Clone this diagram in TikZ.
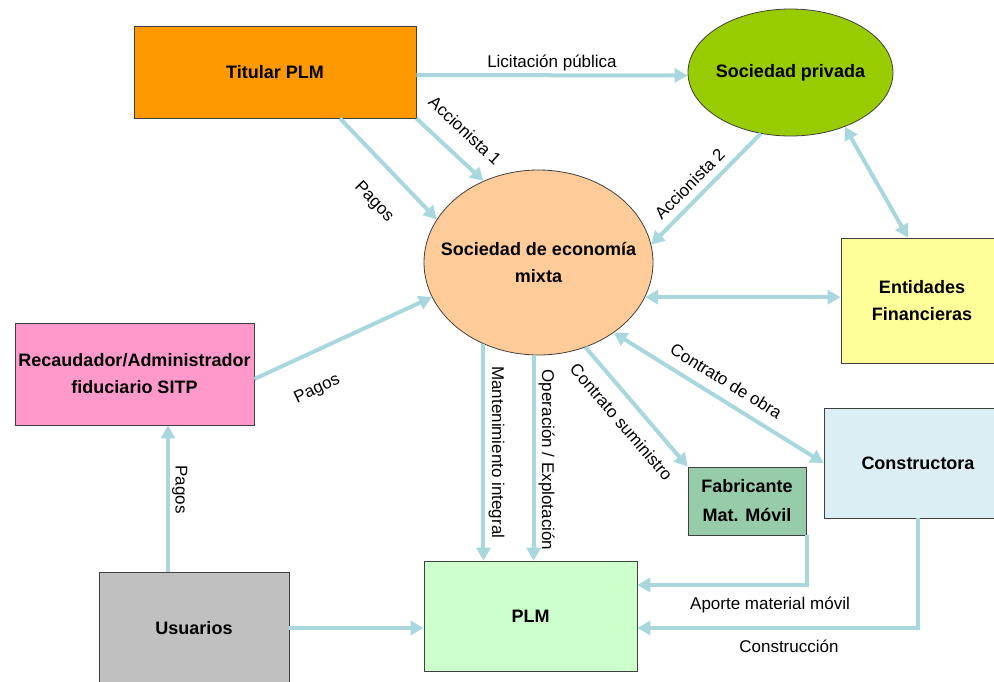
\documentclass[tikz,border=0pt]{standalone}
\usepackage{fontspec}
\setmainfont{Liberation Sans}
\usetikzlibrary{shapes.geometric}
\usetikzlibrary{arrows.meta}

\definecolor{flowblue}{RGB}{168,216,222}
\definecolor{titularfill}{RGB}{255,153,0}
\definecolor{privadafill}{RGB}{153,204,0}
\definecolor{mixtafill}{RGB}{255,204,153}
\definecolor{entidadesfill}{RGB}{255,255,153}
\definecolor{recaudadorfill}{RGB}{255,153,204}
\definecolor{constructorafill}{RGB}{218,238,243}
\definecolor{fabricantefill}{RGB}{150,204,170}
\definecolor{usuariosfill}{RGB}{192,192,192}
\definecolor{plmfill}{RGB}{204,255,204}

\begin{document}
\begin{tikzpicture}[x=1pt, y=-1pt,
    flow/.style={line width=4pt, draw=flowblue, -{Triangle[width=14pt,length=13pt]}},
    twoway/.style={flow, {Triangle[width=14pt,length=13pt]}-{Triangle[width=14pt,length=13pt]}},
    box/.style={rectangle, draw=black!75, line width=0.8pt, inner sep=0pt, align=center,
        font=\fontsize{18}{27}\selectfont\bfseries},
    oval/.style={box, ellipse, inner xsep=-25pt, inner ysep=-5pt},
    lbl/.style={font=\fontsize{17}{20}\selectfont, inner sep=2pt},
]
\useasboundingbox (0,0) rectangle (994,681);
\clip (0,0) rectangle (994,681);

% actors
\node[box, fill=titularfill, minimum width=282pt, minimum height=92pt] (titular) at (275,72) {Titular PLM};
\node[oval, fill=privadafill, minimum width=205pt, minimum height=127pt] (privada) at (790.5,72.5) {Sociedad privada};
\node[oval, fill=mixtafill, minimum width=229pt, minimum height=185pt] (mixta) at (538.5,262.5) {Sociedad de economía\\mixta};
\node[box, fill=entidadesfill, minimum width=162pt, minimum height=125pt] (entidades) at (922,300.5) {Entidades\\Financieras};
\node[box, fill=recaudadorfill, minimum width=239pt, minimum height=102pt] (recaudador) at (134.5,374) {Recaudador/Administrador\\fiduciario SITP};
\node[box, fill=constructorafill, minimum width=188pt, minimum height=110pt] (constructora) at (918,463) {Constructora};
\node[box, fill=fabricantefill, minimum width=118pt, minimum height=68pt, font=\fontsize{18}{29}\selectfont\bfseries] (fabricante) at (747,501) {Fabricante\\Mat. Móvil};
\node[box, fill=usuariosfill, minimum width=190pt, minimum height=112pt] (usuarios) at (194,628) {Usuarios};
\node[box, fill=plmfill, minimum width=213pt, minimum height=110pt] (plm) at (530.5,616) {PLM};

% relations
\draw[flow] ([yshift=-3pt]titular.east) -- node[lbl, above] {Licitación pública} ([yshift=-3pt]privada.west);
\draw[flow] ([xshift=65pt]titular.south) -- node[lbl, sloped, below=22pt, pos=0.6] {Pagos} (mixta.157);
\draw[flow] (titular.south east) -- node[lbl, sloped, above=14pt, pos=0.48] {Accionista 1} (mixta.124);
\draw[flow] (privada.-116) -- node[lbl, sloped, above=5pt, pos=0.55] {Accionista 2} (mixta.9);
\draw[twoway] (privada.-45) -- ([xshift=-14pt]entidades.north);
\draw[twoway] (mixta.-18) -- (mixta.-18 -| entidades.west);
\draw[flow] ([yshift=-5pt]recaudador.east) -- node[lbl, sloped, below=24pt, pos=0.27] {Pagos} (mixta.198);
\draw[flow] ([xshift=-26pt]usuarios.north) -- node[lbl, pos=0.56, rotate=-90, anchor=south] {Pagos} ([xshift=-26pt]usuarios.north |- recaudador.south);
\draw[flow] (usuarios.east) -- (usuarios.east -| plm.west);
\draw[flow] (mixta.-124) -- node[lbl, sloped, above=1pt, pos=0.5] {Mantenimiento integral} (mixta.-124 |- plm.north);
\draw[flow] (mixta.-93) -- node[lbl, sloped, above=1pt, pos=0.51] {Operación / Explotación} (mixta.-93 |- plm.north);
\draw[flow] (mixta.-61) -- node[lbl, sloped, below=11pt, pos=0.51] {Contrato suministro} (fabricante.north west);
\draw[twoway] (mixta.-43) -- node[lbl, sloped, above=8pt, pos=0.49] {Contrato de obra} (constructora.west);
\draw[flow] ([xshift=1pt]fabricante.south east) |- node[lbl, below=8pt, pos=0.61] {Aporte material móvil} ([yshift=31pt]plm.east);
\draw[flow] (constructora.south) |- node[lbl, below=8pt, pos=0.73] {Construcción} ([yshift=-12pt]plm.east);
\end{tikzpicture}
\end{document}
